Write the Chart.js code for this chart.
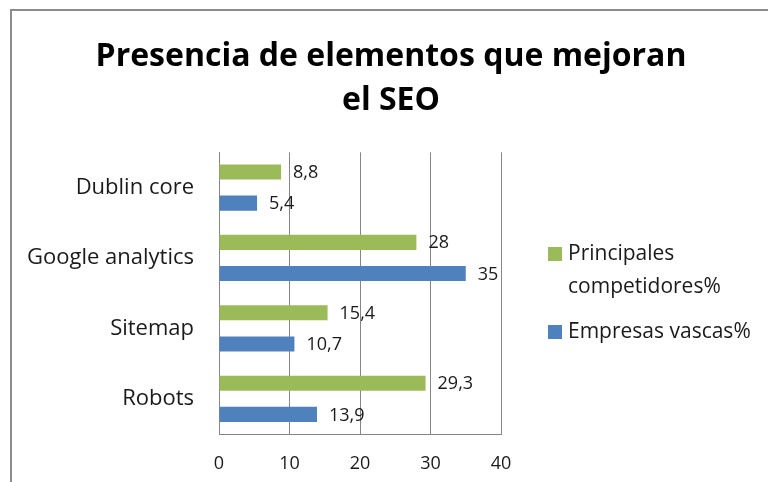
<!DOCTYPE html>
<html>
<head>
<meta charset="utf-8">
<script src="https://cdn.jsdelivr.net/npm/chart.js@4.4.1/dist/chart.umd.min.js"></script>
<style>
  html, body { margin: 0; padding: 0; background: #fff; }
  #wrap { position: relative; width: 768px; height: 482px; }
  #frame { position: absolute; left: 10px; top: 9px; right: -5px; bottom: -5px;
           border-left: 2px solid #8c8c8c; border-top: 2px solid #8c8c8c; pointer-events: none; }
</style>
</head>
<body>
<div id="wrap">
  <canvas id="seo_chart" width="768" height="482"></canvas>
  <div id="frame"></div>
</div>
<script>
// ── data ─────────────────────────────────────────────────
const categories   = ["Dublin core", "Google analytics", "Sitemap", "Robots"];
const competidores = [8.8, 28, 15.4, 29.3];
const vascas       = [5.4, 35, 10.7, 13.9];
const xTicks       = [0, 10, 20, 30, 40];
const seriesNames  = ["Principales competidores%", "Empresas vascas%"];
const legendLines  = [["Principales", "competidores%"], ["Empresas vascas%"]];

const GREEN = "#9BBB59";
const BLUE  = "#4F81BD";
const GRID  = "#868686";
const FONT  = "'Open Sans', Lato, sans-serif";

const fmt = (v) => String(v).replace(".", ",");

// etiquetas de valor al final de cada barra
const valueLabels = {
  id: "valueLabels",
  afterDatasetsDraw(chart) {
    const { ctx } = chart;
    ctx.save();
    ctx.font = `18px ${FONT}`;
    ctx.fillStyle = "#1a1a1a";
    ctx.textBaseline = "middle";
    ctx.textAlign = "left";
    chart.data.datasets.forEach((ds, i) => {
      chart.getDatasetMeta(i).data.forEach((bar, j) => {
        ctx.fillText(fmt(ds.data[j]), bar.x + 12, bar.y + 1);
      });
    });
    ctx.restore();
  },
};

// leyenda a la derecha (texto en dos líneas)
const sideLegend = {
  id: "sideLegend",
  afterDraw(chart) {
    const { ctx } = chart;
    const x0 = 548, tx = 568;
    const rows = [{ y: 254, ds: 0 }, { y: 332, ds: 1 }];
    ctx.save();
    ctx.font = `21px ${FONT}`;
    ctx.textBaseline = "middle";
    rows.forEach((r) => {
      const ds = chart.data.datasets[r.ds];
      ctx.fillStyle = ds.backgroundColor;
      ctx.fillRect(x0, r.y - 7, 14, 14);
      ctx.fillStyle = "#1a1a1a";
      legendLines[r.ds].forEach((line, k) => {
        ctx.fillText(line, tx, r.y + k * 33);
      });
    });
    ctx.restore();
  },
};

new Chart(document.getElementById("seo_chart"), {
  type: "bar",
  data: {
    labels: categories,
    datasets: [
      { label: seriesNames[0], data: competidores, backgroundColor: GREEN, borderWidth: 0,
        categoryPercentage: 0.886, barPercentage: 0.484 },
      { label: seriesNames[1], data: vascas, backgroundColor: BLUE, borderWidth: 0,
        categoryPercentage: 0.886, barPercentage: 0.484 },
    ],
  },
  options: {
    indexAxis: "y",
    responsive: false,
    animation: false,
    layout: { padding: { top: 10, right: 2, left: 16, bottom: 0 } },
    plugins: {
      legend: { display: false },
      tooltip: { enabled: false },
      title: {
        display: true,
        text: ["Presencia de elementos que mejoran", "el SEO"],
        color: "#000",
        font: { family: FONT, size: 32, weight: "bold", lineHeight: 1.38 },
        padding: { top: 25, bottom: 29 },
      },
    },
    scales: {
      x: {
        min: 0, max: 40,
        afterBuildTicks: (s) => { s.ticks = xTicks.map((v) => ({ value: v })); },
        afterFit: (s) => { s.height = 48; },
        grid: { color: GRID, drawTicks: false },
        border: { color: GRID },
        ticks: { color: "#1a1a1a", padding: 19, font: { family: FONT, size: 18 } },
      },
      y: {
        afterFit: (s) => { s.width = 203; },
        grid: { display: false, drawTicks: false },
        border: { color: GRID },
        ticks: { color: "#1a1a1a", padding: 25, font: { family: FONT, size: 22 } },
      },
      // espacio reservado a la derecha para la leyenda
      yRight: {
        type: "category",
        position: "right",
        afterFit: (s) => { s.width = 265; },
        grid: { display: false, drawTicks: false },
        border: { display: false },
        ticks: { display: false },
      },
    },
  },
  plugins: [valueLabels, sideLegend],
});
</script>
</body>
</html>
